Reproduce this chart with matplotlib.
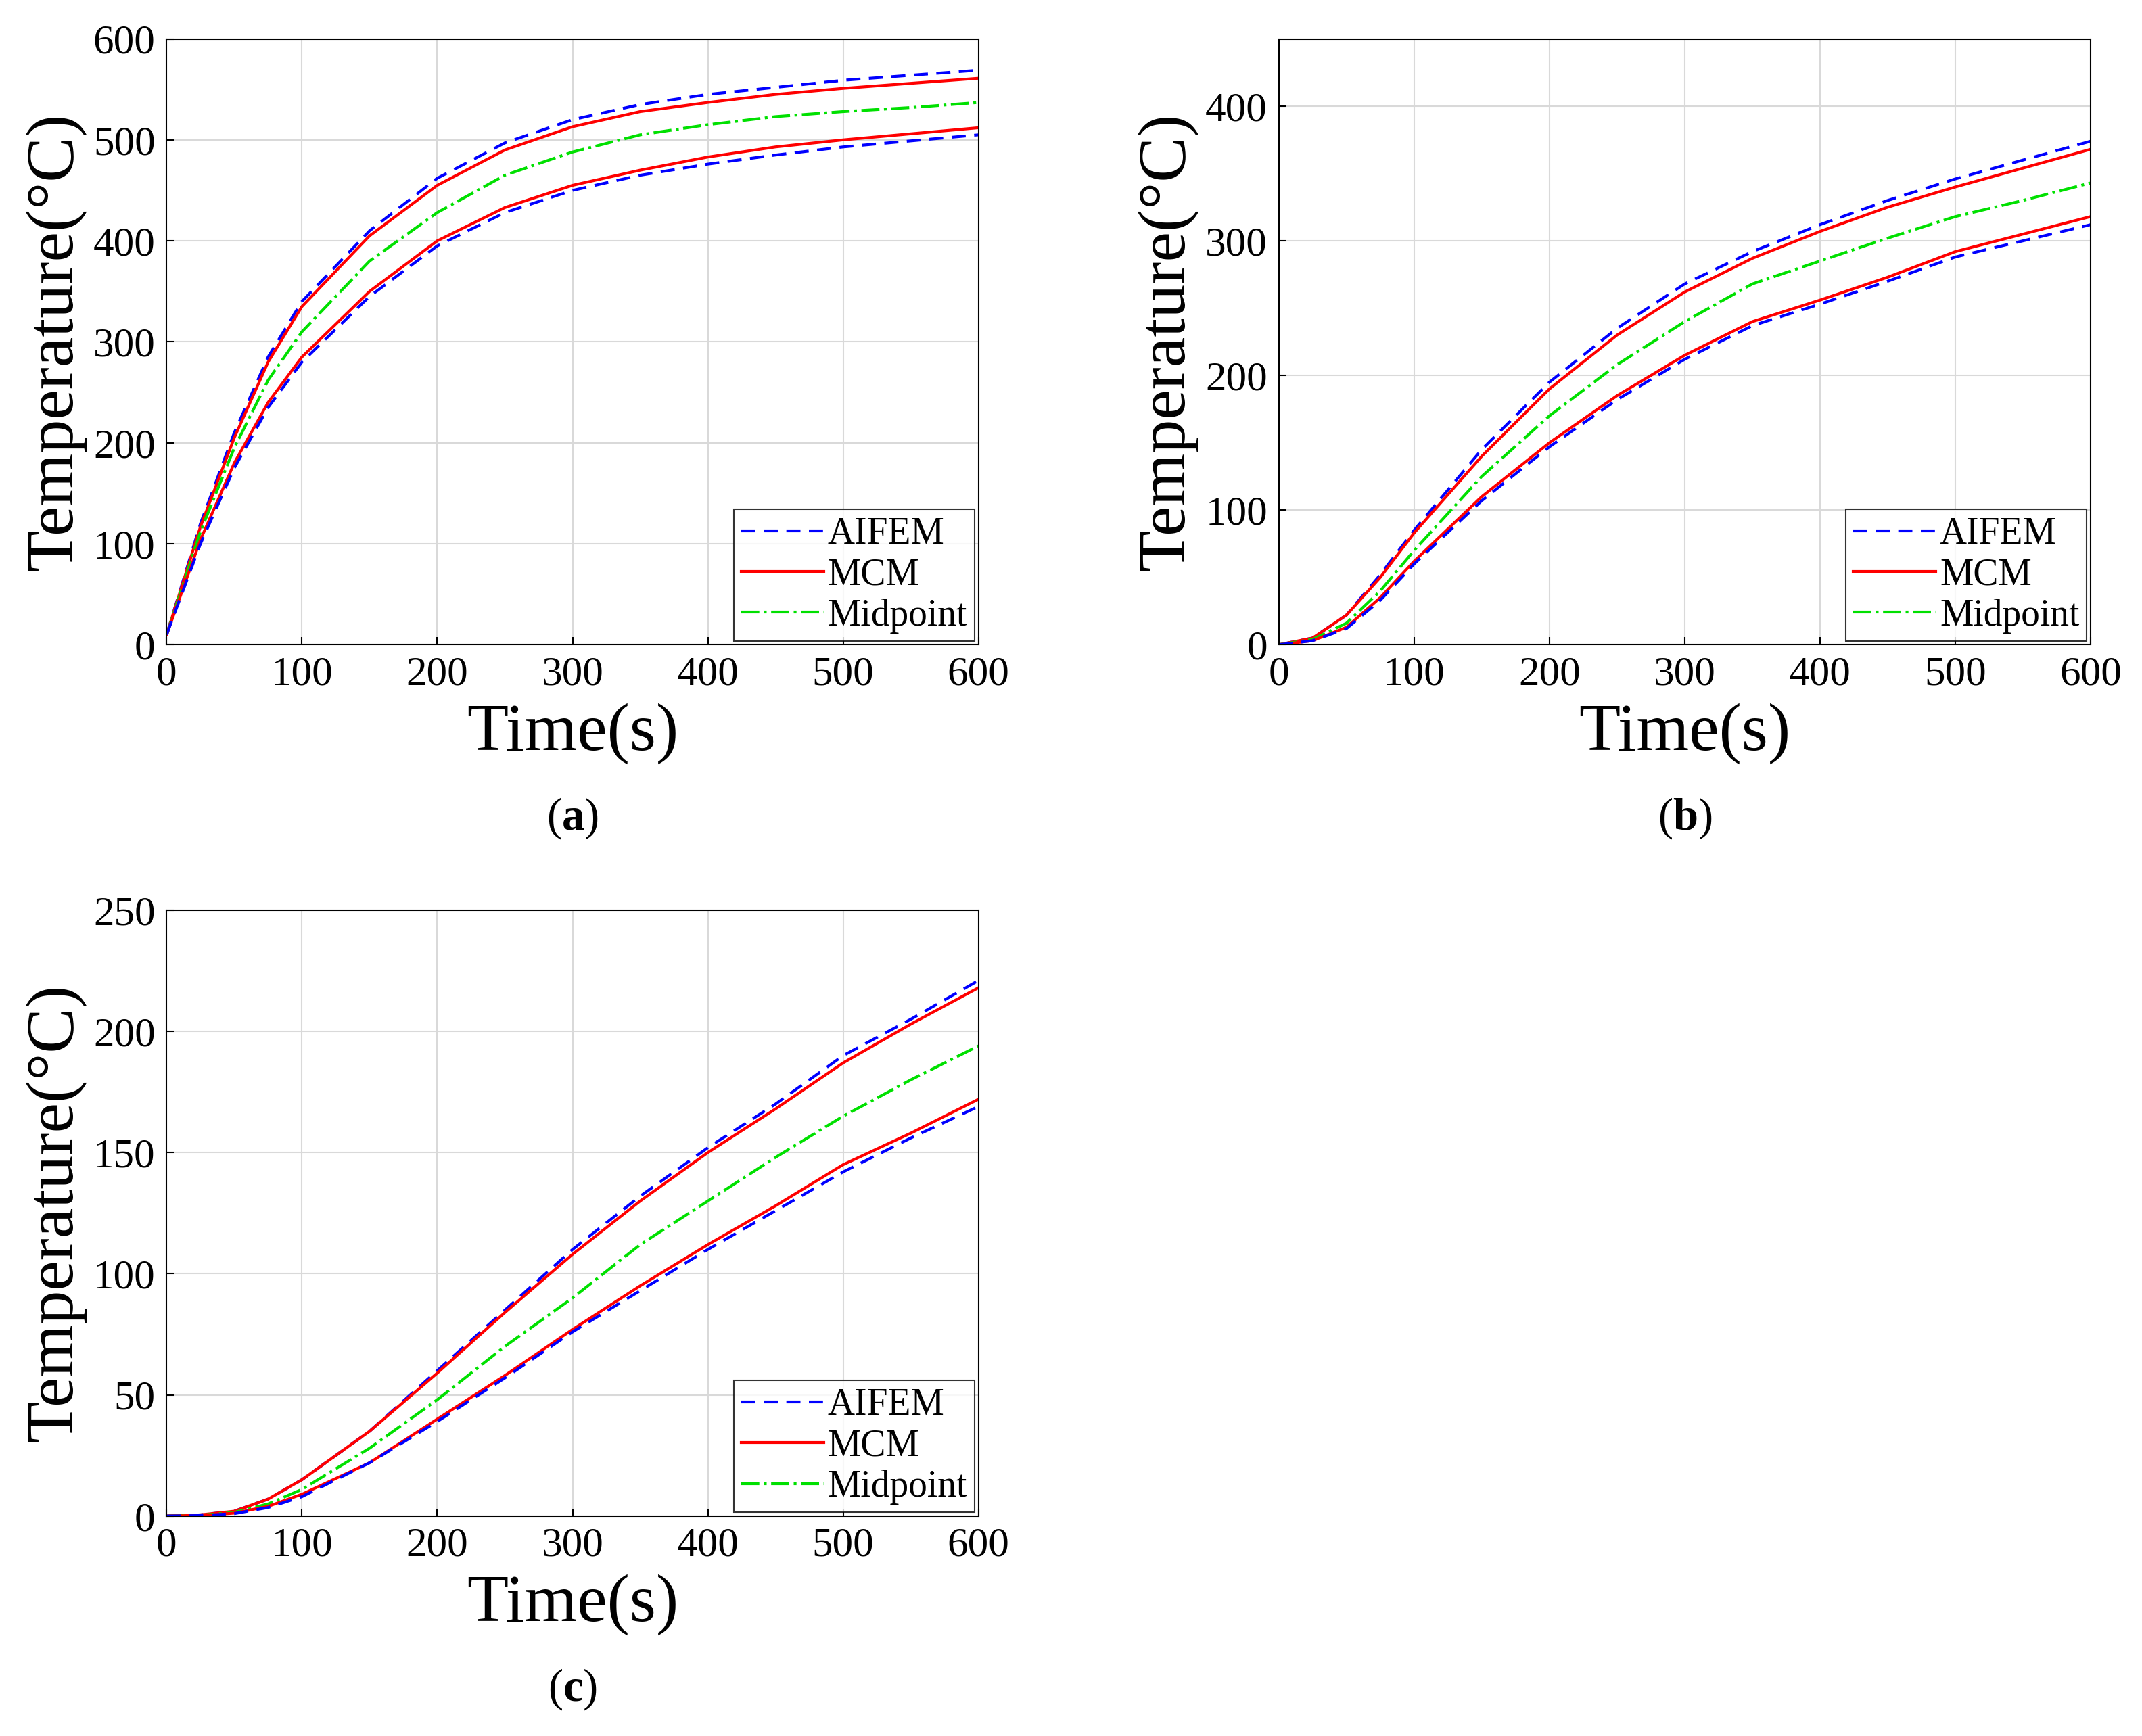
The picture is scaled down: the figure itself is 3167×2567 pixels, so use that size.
import matplotlib
matplotlib.use("Agg")
import matplotlib.pyplot as plt

t = [0, 25, 50, 75, 100, 150, 200, 250, 300, 350, 400, 450, 500, 550, 600]

a_aifem_up = [10, 120, 210, 285, 340, 410, 462, 497, 520, 535, 545, 552, 559, 564, 569]
a_mcm_up   = [10, 117, 205, 280, 335, 405, 455, 490, 513, 528, 537, 545, 551, 556, 561]
a_mid      = [10, 112, 195, 262, 310, 380, 428, 465, 488, 505, 515, 523, 528, 532, 537]
a_mcm_lo   = [10, 104, 180, 240, 285, 350, 400, 433, 455, 470, 483, 493, 500, 506, 512]
a_aifem_lo = [10, 100, 175, 235, 280, 345, 395, 428, 450, 465, 476, 485, 493, 499, 505]

b_aifem_up = [0, 5, 22, 52, 85, 145, 195, 235, 268, 292, 312, 330, 346, 360, 374]
b_mcm_up   = [0, 5, 22, 50, 83, 140, 190, 230, 262, 287, 307, 325, 340, 354, 368]
b_mid      = [0, 4, 16, 40, 70, 125, 170, 208, 240, 268, 285, 302, 318, 330, 343]
b_mcm_lo   = [0, 3, 13, 35, 62, 110, 150, 185, 215, 240, 256, 273, 292, 305, 318]
b_aifem_lo = [0, 3, 12, 33, 60, 107, 147, 182, 212, 237, 253, 270, 288, 300, 312]

c_aifem_up = [0, 0.5, 2, 7, 15, 35, 60, 85, 110, 132, 152, 170, 190, 205, 221]
c_mcm_up   = [0, 0.5, 2, 7, 15, 35, 59, 84, 108, 130, 150, 168, 187, 203, 218]
c_mid      = [0, 0.3, 1.5, 5, 11, 28, 48, 70, 90, 112, 130, 148, 165, 180, 194]
c_mcm_lo   = [0, 0.2, 1.2, 4, 9, 22, 40, 58, 77, 95, 112, 128, 145, 158, 172]
c_aifem_lo = [0, 0.2, 1, 3.5, 8, 22, 39, 57, 76, 93, 110, 126, 142, 156, 169]

xticks = [0, 100, 200, 300, 400, 500, 600]

plt.rcParams["font.family"] = "Liberation Serif"
plt.rcParams["mathtext.fontset"] = "custom"
plt.rcParams["mathtext.bf"] = "Liberation Serif:bold"
plt.rcParams["mathtext.rm"] = "Liberation Serif"
fig = plt.figure(figsize=(31.67, 25.67), dpi=100)

panels = [
    ([0.0778, 0.6286, 0.379, 0.349], (a_aifem_up, a_mcm_up, a_mid, a_mcm_lo, a_aifem_lo), (0, 600), range(0, 601, 100), "a"),
    ([0.597, 0.6286, 0.379, 0.349], (b_aifem_up, b_mcm_up, b_mid, b_mcm_lo, b_aifem_lo), (0, 450), range(0, 401, 100), "b"),
    ([0.0778, 0.1267, 0.379, 0.349], (c_aifem_up, c_mcm_up, c_mid, c_mcm_lo, c_aifem_lo), (0, 250), range(0, 251, 50), "c"),
]

blue, red, green = "#0000ff", "#ff0000", "#00e000"
for pos, (au, mu, md, ml, al), ylim, yt, lab in panels:
    ax = fig.add_axes(pos)
    ax.plot(t, au, "--", color=blue, lw=3, dashes=(5, 3), label="AIFEM")
    ax.plot(t, mu, "-", color=red, lw=3, label="MCM")
    ax.plot(t, md, "-.", color=green, lw=3, label="Midpoint")
    ax.plot(t, ml, "-", color=red, lw=3)
    ax.plot(t, al, "--", color=blue, lw=3, dashes=(5, 3))
    ax.set_xlim(0, 600)
    ax.set_ylim(*ylim)
    ax.set_xticks(xticks)
    ax.set_yticks(list(yt))
    ax.grid(True, color="#d9d9d9", lw=1.5)
    ax.tick_params(labelsize=44, direction="in", length=8, width=1.5, pad=12)
    for s in ax.spines.values():
        s.set_linewidth(1.5)
    ax.set_xlabel("Time(s)", fontsize=72, labelpad=10)
    ax.set_ylabel("Temperature(°C)", fontsize=72, labelpad=8)
    leg = ax.legend(loc="lower right", fontsize=40, fancybox=False, edgecolor="black",
                    handlelength=2.2, handletextpad=0.1, borderaxespad=0.1,
                    labelspacing=0.15, borderpad=0.2)
    leg.get_frame().set_linewidth(1.5)
    cx = pos[0] + pos[2] / 2
    cy = pos[1] - 0.1
    fig.text(cx, cy, f"($\\mathbf{{{lab}}}$)", ha="center", va="center", fontsize=48)

fig.savefig("out.png", dpi=100)
